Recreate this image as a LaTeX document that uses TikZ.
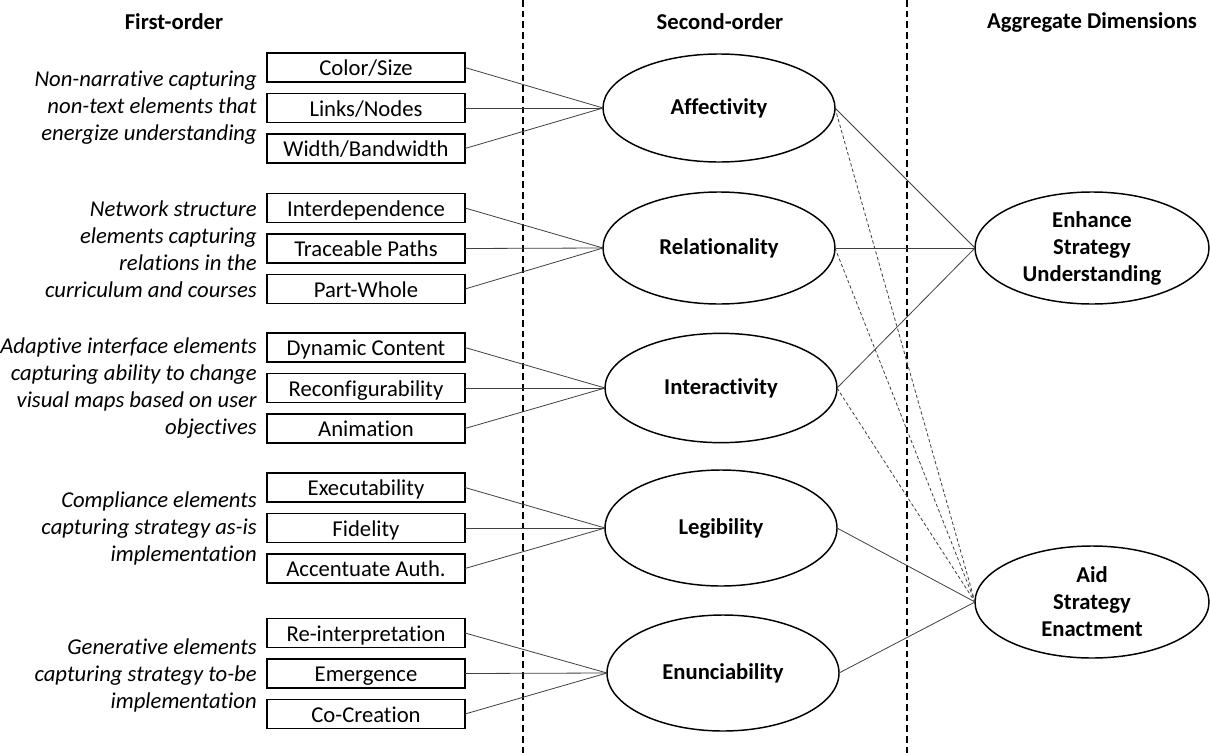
\documentclass[tikz,border=0pt]{standalone}
\usepackage{fontspec}
\setmainfont{Carlito}[Ligatures=NoCommon]
\usetikzlibrary{shapes.geometric}
\begin{document}
\begin{tikzpicture}[x=0.75pt,y=-0.75pt,
  every node/.style={font=\fontsize{17}{20.25}\selectfont},
  itembox/.style={draw,line width=1.1pt,minimum width=148.5pt,minimum height=21.75pt,inner sep=0pt,outer sep=0pt,text height=14pt,text depth=2pt},
  oval/.style={draw,ellipse,line width=1.1pt,inner sep=0pt,outer sep=0pt,minimum width=174pt,minimum height=84pt},
  desc/.style={anchor=east,align=right,inner sep=0pt,font=\fontsize{17}{20.25}\selectfont\itshape},
  header/.style={font=\fontsize{17}{20.25}\selectfont\bfseries,inner sep=0pt},
  link/.style={draw=black!75,line width=0.6pt},
  dlink/.style={draw=black!75,line width=0.6pt,dash pattern=on 2.5pt off 1.8pt},
  divider/.style={line width=1.1pt,dash pattern=on 5pt off 3pt}]
\useasboundingbox (0,0) rectangle (1210,753);
\fill[white] (0,0) rectangle (1210,753);
% dividers
\coordinate (d1t) at (523,0); \coordinate (d1b) at (523,753);
\coordinate (d2t) at (907,0); \coordinate (d2b) at (907,753);
\draw[divider] (d1t) -- (d1b);
\draw[divider] (d2t) -- (d2b);
% headers
\node[header] (h1) at (174,22) {First-order};
\node[header] (h2) at (720,22) {Second-order};
\node[header] (h3) at (1092,22) {Aggregate Dimensions};
% first-order boxes
\node[itembox] (b11) at (366,67.5) {Color/Size};
\node[itembox] (b12) at (366,108) {Links/Nodes};
\node[itembox] (b13) at (366,148.5) {Width/Bandwidth};
\node[itembox] (b21) at (366,208) {Interdependence};
\node[itembox] (b22) at (366,248.5) {Traceable Paths};
\node[itembox] (b23) at (366,289) {Part-Whole};
\node[itembox] (b31) at (366,347.5) {Dynamic Content};
\node[itembox] (b32) at (366,388) {Reconfigurability};
\node[itembox] (b33) at (366,428.5) {Animation};
\node[itembox] (b41) at (366,487.5) {Executability};
\node[itembox] (b42) at (366,528) {Fidelity};
\node[itembox] (b43) at (366,568.5) {Accentuate Auth.};
\node[itembox] (b51) at (366,633) {Re-interpretation};
\node[itembox] (b52) at (366,673.5) {Emergence};
\node[itembox] (b53) at (366,714) {Co-Creation};
% descriptions
\node[desc] (t1) at (257,108) {Non-narrative capturing\\non-text elements that\\energize understanding};
\node[desc] (t2) at (257,249) {Network structure\\elements capturing\\relations in the\\curriculum and courses};
\node[desc] (t3) at (257,388) {Adaptive interface elements\\capturing ability to change\\visual maps based on user\\objectives};
\node[desc] (t4) at (257,528) {Compliance elements\\capturing strategy as-is\\implementation};
\node[desc] (t5) at (257,675) {Generative elements\\capturing strategy to-be\\implementation};
% second-order
\node[oval,minimum height=81pt,label={[header]center:Affectivity}] (aff) at (719,108) {};
\node[oval,label={[header]center:Relationality}] (rel) at (719,248) {};
\node[oval,minimum height=82pt,label={[header]center:Interactivity}] (int) at (721,388) {};
\node[oval,minimum height=87pt,label={[header]center:Legibility}] (leg) at (721,528) {};
\node[oval,minimum height=87pt,label={[header]center:Enunciability}] (enu) at (723,673) {};
% aggregate
\node[oval,minimum width=175.5pt,label={[header,align=center]center:Enhance\\Strategy\\Understanding}] (enh) at (1092,248) {};
\node[oval,minimum width=175.5pt,label={[header,align=center]center:Aid\\Strategy\\Enactment}] (aid) at (1092,602) {};
% links first to second
\foreach \g/\o in {1/aff,2/rel,3/int,4/leg,5/enu}{
  \foreach \i in {1,2,3}{
    \draw[link] (b\g\i.east) -- (\o.west);
  }
}
% links second to aggregate
\draw[link] (aff.east) -- (enh.west);
\draw[link] (rel.east) -- (enh.west);
\draw[link] (int.east) -- (enh.west);
\draw[link] (leg.east) -- (aid.west);
\draw[link] (enu.east) -- (aid.west);
\draw[dlink] (aff.east) -- (aid.west);
\draw[dlink] (rel.east) -- (aid.west);
\draw[dlink] (int.east) -- (aid.west);
\end{tikzpicture}
\end{document}
